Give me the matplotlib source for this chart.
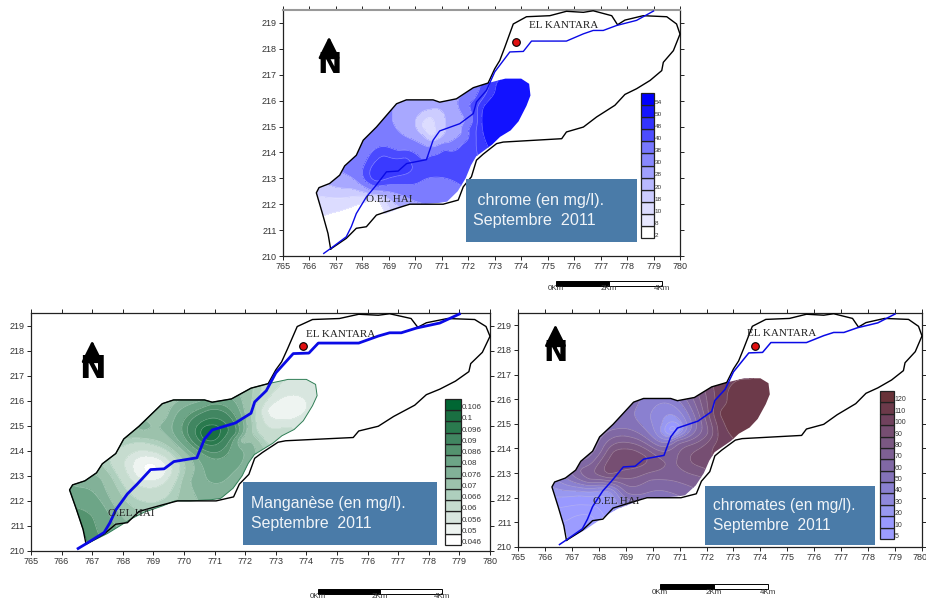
import numpy as np
import matplotlib
matplotlib.use("Agg")
import matplotlib.pyplot as plt
from matplotlib.patches import Polygon, Rectangle
from matplotlib.transforms import ScaledTranslation

W, H = 926, 601

# catchment outline and wadi (km)
outline_x = [766.80, 766.70, 766.49, 766.26, 766.36, 766.76, 767.14, 767.33, 767.77, 768.03, 768.53, 769.29, 769.66,
             770.67, 770.92, 771.55, 772.19, 772.75, 773.00, 773.19, 773.38, 773.70, 774.20, 775.08, 775.71, 776.35,
             776.72, 777.42, 777.64, 777.92, 778.61, 779.50, 779.87, 780.00, 779.75, 779.37, 779.31, 778.87, 778.36,
             777.92, 777.54, 776.85, 776.35, 775.71, 775.53, 773.32, 773.07, 772.56, 772.31, 772.12, 771.81, 771.62,
             771.05, 769.79, 769.29, 768.53, 768.15, 767.77, 767.39, 766.80]
outline_y = [210.27, 210.87, 211.64, 212.44, 212.64, 212.80, 213.12, 213.48, 213.89, 214.47, 214.98, 215.88, 216.03,
             216.03, 215.94, 216.07, 216.50, 216.68, 217.23, 217.55, 218.06, 218.96, 219.24, 219.28, 219.45, 219.41,
             219.47, 219.28, 218.93, 219.11, 219.28, 219.24, 218.96, 218.57, 217.93, 217.48, 217.16, 216.78, 216.46,
             216.24, 215.82, 215.37, 214.98, 214.79, 214.53, 214.40, 214.34, 213.93, 213.70, 213.06, 212.67, 212.16,
             212.00, 212.00, 211.84, 211.58, 211.13, 211.07, 210.68, 210.27]
river_x = [766.54, 766.80, 767.39, 767.58, 767.77, 768.15, 768.47, 768.91, 769.35, 769.67, 770.42, 770.67, 770.92,
           771.68, 772.19, 772.31, 772.69, 773.00, 773.57, 774.08, 774.39, 775.71, 776.35, 776.72, 777.10, 777.60,
           778.36, 779.00]
river_y = [210.10, 210.29, 210.74, 211.13, 211.64, 212.28, 212.67, 213.25, 213.28, 213.57, 213.72, 214.47, 214.83,
           215.11, 215.50, 215.95, 216.40, 217.11, 217.88, 217.90, 218.30, 218.30, 218.58, 218.71, 218.71, 218.90,
           219.10, 219.46]

# limit of the contoured zone
zone_x = [766.26, 766.36, 766.76, 767.14, 767.33, 767.77, 768.03, 768.53, 769.29, 769.66, 770.67, 770.92, 771.55,
          772.19, 772.75, 773.40, 774.00, 774.30, 774.35, 774.20, 773.90, 773.60, 773.20, 772.90, 772.30, 772.10,
          771.90, 771.60, 771.20, 770.90, 770.20, 769.70, 769.30, 768.70, 768.30, 767.90, 767.50, 766.85, 766.70,
          766.49]
zone_y = [212.44, 212.64, 212.80, 213.12, 213.48, 213.89, 214.47, 214.98, 215.88, 216.03, 216.03, 215.94, 216.07,
          216.50, 216.68, 216.85, 216.85, 216.65, 216.20, 215.80, 215.20, 214.85, 214.60, 214.30, 213.85, 213.50,
          213.00, 212.50, 212.10, 212.05, 212.00, 212.00, 211.80, 211.55, 211.30, 211.00, 210.70, 210.30, 210.87,
          211.64]

# values read along the contours of each map: x, y, value
cr_x = [769.16, 769.50, 770.30, 771.20, 771.80, 771.93, 771.93, 767.27, 768.28,
        768.05, 768.35, 769.35, 770.20, 770.60, 771.10, 771.75, 771.95, 771.90, 768.10, 768.50, 770.30, 771.80,
        773.00, 772.56, 772.50, 772.75, 773.26,
        770.04, 770.55, 771.10, 770.80, 770.20, 770.55, 770.70, 770.55,
        766.64, 768.15, 766.45, 768.03, 766.50, 767.40,
        767.00, 767.70, 766.90, 768.20, 768.55, 769.00, 769.30, 769.60, 770.00, 771.00,
        768.34, 768.78, 769.66, 769.92, 769.16, 769.00,
        771.00, 771.50, 772.00, 772.30, 772.30,
        768.40, 767.90, 769.50, 770.80, 767.50,
        770.00, 769.60, 771.40, 771.50, 771.00, 770.20, 767.20, 767.70,
        773.50, 774.00, 773.40, 772.90, 773.20]
cr_y = [215.50, 214.70, 214.30, 214.30, 214.70, 215.20, 216.10, 213.18, 212.54,
        213.50, 214.00, 214.05, 213.70, 213.90, 214.25, 214.35, 214.90, 216.00, 212.90, 212.67, 212.95, 212.67,
        216.30, 215.75, 215.24, 214.21, 216.78,
        215.10, 215.62, 215.10, 214.47, 215.05, 215.43, 214.98, 214.60,
        212.80, 212.48, 211.52, 212.03, 212.30, 212.25,
        211.00, 211.20, 210.50, 211.80, 212.20, 211.85, 212.10, 212.30, 212.40, 212.45,
        213.44, 213.89, 213.83, 213.44, 213.05, 213.40,
        213.40, 213.80, 214.00, 215.50, 214.60,
        214.50, 213.60, 214.40, 214.10, 213.40,
        215.70, 215.50, 215.80, 215.00, 214.45, 214.60, 212.85, 212.75,
        216.00, 216.00, 215.00, 214.55, 216.70]
cr_v = [30, 30, 30, 30, 30, 30, 30, 30, 30,
        40, 40, 40, 40, 40, 40, 40, 40, 40, 40, 40, 40, 40,
        50, 50, 50, 50, 50,
        20, 20, 20, 20, 14, 14, 14, 14,
        20, 20, 8, 8, 14, 14,
        3, 3, 3, 3, 8, 14, 22, 30, 35, 35,
        46, 46, 46, 46, 46, 48,
        42, 42, 43, 45, 46,
        35, 34, 34, 35, 32,
        25, 26, 25, 25, 24, 24, 24, 24,
        54, 55, 54, 52, 52]
cr_levels = [2, 8, 10, 18, 20, 28, 30, 38, 40, 48, 50, 54]
cr_colors = ["#ffffff", "#e8e8ff", "#dcdcff", "#ccccff", "#b8b8ff", "#a0a0ff", "#8888ff", "#7777ff", "#4d4dff",
             "#3333ff", "#1515ff", "#0000ff"]
# the chrome map itself only shows these bands
cr_field_levels = [8, 14, 20, 30, 40, 46, 50]
cr_field_colors = ["#dcdcff", "#ccccff", "#a8a8ff", "#7c7cff", "#4a4aff", "#3a3aff", "#1212ff"]

mn_x = [770.85, 770.55, 771.15, 770.85, 770.85,
        770.11, 770.85, 771.74, 770.96,
        769.76, 770.52, 772.13, 771.61, 770.41,
        768.89, 768.34, 768.89, 769.43, 768.89,
        767.58, 768.56, 769.87, 769.43, 768.34,
        767.30, 768.67, 770.20, 770.41,
        766.45, 767.65, 767.00, 767.20,
        772.70, 773.57, 774.00, 773.46, 773.36,
        772.26, 771.94, 772.43, 772.38, 772.70,
        773.20, 774.30, 773.30, 769.30, 769.70, 768.00]
mn_y = [214.69, 214.70, 214.70, 215.00, 214.40,
        214.89, 215.65, 214.69, 213.92,
        215.49, 215.96, 214.29, 213.16, 213.76,
        213.36, 213.36, 213.76, 213.23, 212.83,
        213.49, 214.36, 213.23, 212.16, 212.16,
        212.90, 214.76, 212.83, 212.16,
        212.56, 211.23, 211.40, 210.70,
        215.63, 216.23, 215.76, 215.23, 215.76,
        216.49, 214.43, 216.03, 214.83, 214.29,
        216.70, 216.60, 214.80, 215.40, 215.90, 214.60]
mn_v = [.106, .1, .1, .1, .1,
        .09, .09, .09, .09,
        .08, .08, .08, .08, .08,
        .047, .056, .056, .056, .056,
        .066, .066, .066, .066, .066,
        .076, .076, .076, .076,
        .08, .08, .086, .086,
        .056, .056, .056, .056, .054,
        .07, .07, .066, .066, .066,
        .06, .058, .062, .074, .076, .072]
mn_levels = [.046, .05, .056, .06, .066, .07, .076, .08, .086, .09, .096, .1, .106]
mn_colors = ["#ffffff", "#eef4f1", "#d8e6df", "#c6dccf", "#aecfbd", "#9cc2ac", "#82b198", "#6da587", "#54936f",
             "#418661", "#2a7a4e", "#1a6f42", "#006633"]

cm_x = [770.74, 770.55, 770.95, 770.74, 770.74, 770.40, 771.05, 770.74, 769.90, 770.50, 771.14, 770.70,
        768.35, 770.27, 770.90, 771.63, 771.32,
        771.76, 772.07, 771.26, 770.95, 771.76,
        768.28, 768.53, 769.28, 769.77, 768.90, 768.35,
        773.68, 772.75, 772.47, 773.00,
        772.25, 772.25,
        767.29, 767.67, 766.98, 768.41, 769.90, 771.63, 769.00, 770.30,
        766.70, 767.50, 767.00, 767.80, 768.20, 767.30, 766.60, 768.00,
        769.00, 770.20, 771.50, 772.10, 769.20, 768.00, 767.60, 769.30, 768.70,
        773.50, 774.10, 773.50, 773.20, 772.60, 772.50]
cm_y = [214.79, 214.85, 214.85, 215.05, 214.55, 214.95, 215.00, 215.45, 215.30, 215.85, 215.30, 214.40,
        214.70, 214.09, 214.36, 215.03, 215.85,
        215.98, 214.63, 214.09, 213.55, 212.87,
        213.41, 213.88, 213.95, 213.68, 213.14, 212.94,
        216.79, 216.12, 215.44, 214.42,
        216.52, 214.09,
        213.14, 212.73, 212.67, 212.26, 212.73, 212.33, 212.20, 212.30,
        211.50, 211.70, 210.60, 211.20, 211.70, 212.20, 212.55, 212.35,
        213.45, 213.20, 213.50, 213.90, 214.40, 213.90, 213.50, 215.80, 215.00,
        216.40, 216.00, 215.40, 214.70, 215.90, 214.70]
cm_v = [5, 12, 12, 20, 20, 30, 30, 32, 40, 40, 40, 40,
        60, 60, 60, 60, 60,
        80, 80, 80, 80, 80,
        90, 90, 90, 90, 90, 90,
        110, 110, 110, 110,
        100, 100,
        70, 70, 50, 30, 70, 70, 60, 60,
        8, 10, 5, 5, 15, 25, 38, 35,
        95, 82, 92, 98, 72, 65, 62, 52, 55,
        115, 118, 115, 112, 106, 104]
cm_levels = [5, 10, 20, 30, 40, 50, 60, 70, 80, 90, 100, 110, 120]
cm_colors = ["#9c9cff", "#9999ff", "#9898f0", "#8f88dc", "#8a80d0", "#8472b8", "#8068a4", "#7e6094", "#7a5882",
             "#764e72", "#70425e", "#6c3a4a", "#683238"]

x_ticks = list(range(765, 781))
y_ticks = list(range(210, 220))


def axes_px(left, top, right, bottom):
    # pixel box -> figure fraction
    return [left / W, 1 - bottom / H, (right - left) / W, (bottom - top) / H]


def surface(xs, ys, vals, gx, gy):
    # smoothing thin plate surface over the read values, only to get clean bands between them
    xs, ys, vals = np.array(xs), np.array(ys), np.array(vals)
    n = len(xs)
    kern = lambda r2: 0.5 * r2 * np.log(r2 + 1e-9)
    K = kern((xs[:, None] - xs[None, :]) ** 2 + (ys[:, None] - ys[None, :]) ** 2) + 0.05 * np.eye(n)
    P = np.column_stack([np.ones(n), xs, ys])
    A = np.block([[K, P], [P.T, np.zeros((3, 3))]])
    w = np.linalg.solve(A, np.concatenate([vals, np.zeros(3)]))
    Z = kern((gx[..., None] - xs) ** 2 + (gy[..., None] - ys) ** 2) @ w[:n]
    return Z + w[n] + w[n + 1] * gx + w[n + 2] * gy


def north_arrow(ax, x, tip, n_top, n_bottom, fs):
    ax.text(x, (n_top + n_bottom) / 2, "N", fontsize=fs, fontweight="bold", family="DejaVu Sans",
            ha="center", va="center", color="black", zorder=6)
    ax.annotate("", xy=(x, tip), xytext=(x, n_top - 0.25), zorder=6,
                arrowprops=dict(arrowstyle="-|>,head_width=0.5,head_length=1.0", color="black", lw=2.0,
                                mutation_scale=13, shrinkA=0, shrinkB=0))


def draw_map(box, xs, ys, vals, levels, colors, field_levels, field_colors, river_lw, zone_edge, line_col, kantara, hai,
             north, n_fs, note, note_box, note_fs, legend_box, leg_fs, scale_box):
    ax = fig.add_axes(axes_px(*box))
    gx, gy = np.meshgrid(np.linspace(766, 775, 360), np.linspace(210, 217.2, 290))
    gz = surface(xs, ys, vals, gx, gy)
    lv = field_levels + [field_levels[-1] * 10]
    below = "#ffffff" if field_colors is cr_field_colors else field_colors[0]
    cs = ax.contourf(gx, gy, gz, levels=lv, colors=[below] + field_colors, extend="min", zorder=1)
    cl = ax.contour(gx, gy, gz, levels=field_levels, colors=line_col, linewidths=0.5, alpha=0.4, zorder=2)
    zone = Polygon(list(zip(zone_x, zone_y)), closed=True, transform=ax.transData, fill=False,
                   edgecolor=zone_edge if zone_edge else "none", lw=0.7, zorder=3)
    ax.add_patch(zone)
    cs.set_clip_path(zone)
    cl.set_clip_path(zone)

    ax.plot(outline_x, outline_y, color="black", lw=1.0, zorder=4, clip_on=False)
    ax.plot(river_x, river_y, color="#0a0ae6", lw=river_lw, zorder=5, clip_on=False)
    ax.plot(kantara[2], kantara[3], "o", color="#e01010", mec="black", mew=0.8, ms=5.5, zorder=6)
    ax.text(kantara[0], kantara[1], "EL KANTARA", fontsize=8, family="Liberation Serif", color="#222222", va="center",
            zorder=6)
    ax.text(hai[0], hai[1], "O.EL HAI", fontsize=8, family="Liberation Serif", color="#222222", va="center", zorder=6)
    north_arrow(ax, *north, n_fs)

    ax.set_xlim(765, 780)
    ax.set_ylim(210, 219.5)
    ax.set_xticks(x_ticks)
    ax.set_yticks(y_ticks)
    ax.tick_params(top=True, right=True, direction="out", length=3, width=0.7, labelsize=6.5, pad=1.5,
                   labelcolor="#333333", color="#222222")
    for lab in ax.get_xticklabels() + ax.get_yticklabels():
        lab.set_family("Liberation Sans")
    for sp in ax.spines.values():
        sp.set_linewidth(0.9)
        sp.set_color("#222222")

    # blue title box
    nl, nt, nr, nb = note_box
    fig.add_artist(Rectangle((nl / W, 1 - nb / H), (nr - nl) / W, (nb - nt) / H, transform=fig.transFigure,
                             facecolor="#4a7ba8", edgecolor="none", zorder=7))
    fig.text((nl + note[0]) / W, 1 - (nt + nb) / 2 / H, note[1], fontsize=note_fs, family="Liberation Sans",
             color="#f0f4f8", va="center", ha="left", linespacing=1.47, zorder=8)

    # colour legend
    lg = fig.add_axes(axes_px(*legend_box))
    for i, col in enumerate(colors):
        lg.bar(0.5, 1, width=1, bottom=i, color=col, edgecolor="#222222", linewidth=0.9, clip_on=False)
        lg.text(1.05, i + 0.22, format(levels[i], "g"), fontsize=leg_fs, family="Liberation Sans",
                color="#333333", va="center", ha="left", clip_on=False)
    lg.set_xlim(0, 1)
    lg.set_ylim(0, len(colors))
    lg.axis("off")

    # scale bar
    sl, st, sr, sb = scale_box
    sm = (sl + sr) / 2
    sc = fig.add_axes(axes_px(sl, st, sr, sb))
    sc.add_patch(Rectangle((0, 0), 0.5, 1, facecolor="black", edgecolor="black", lw=0.7, clip_on=False))
    sc.add_patch(Rectangle((0.5, 0), 0.5, 1, facecolor="white", edgecolor="black", lw=0.7, clip_on=False))
    sc.set_xlim(0, 1)
    sc.set_ylim(0, 1)
    sc.axis("off")
    for px, label in zip([sl, sm, sr], ["0Km", "2Km", "4Km"]):
        fig.text(px / W, 1 - (sb + 3) / H, label, fontsize=5.8, family="Liberation Sans", color="#333333",
                 ha="center", va="center")
    return ax


fig = plt.figure(figsize=(W / 100, H / 100), dpi=100)

top = draw_map((283, 10, 680, 256), cr_x, cr_y, cr_v, cr_levels, cr_colors, cr_field_levels, cr_field_colors,
               1.0, None, "#ffffff",
               (774.3, 218.9, 773.8, 218.25), (768.15, 212.2), (766.74, 218.47, 217.87, 216.9), 21,
               (7, " chrome (en mg/l).\nSeptembre  2011"), (466, 179, 637, 242), 11.6,
               (641, 93, 654, 238), 4.6, (556, 281, 662, 286))
top.spines["top"].set_color("#999999")
top.spines["top"].set_linewidth(1.5)
draw_map((31, 313, 490, 551), mn_x, mn_y, mn_v, mn_levels, mn_colors, mn_levels, mn_colors,
         2.0, "#2f7d55", "#e8f2ec",
         (774.0, 218.65, 773.9, 218.2), (767.5, 211.5), (767.0, 218.4, 217.7, 216.8), 23,
         (8, "Manganèse (en mg/l).\nSeptembre  2011"), (243, 482, 437, 545), 11.4,
         (445, 399, 461, 545), 5.8, (318, 589, 442, 594))
right = draw_map((518, 313, 922, 547), cm_x, cm_y, cm_v, cm_levels, cm_colors, cm_levels, cm_colors,
                 1.1, None, "#d8d0e0",
                 (773.5, 218.65, 773.8, 218.15), (767.8, 211.85), (766.39, 219.03, 218.3, 217.44), 21,
                 (8, "chromates (en mg/l).\nSeptembre  2011"), (705, 486, 875, 545), 11.2,
                 (880, 391, 894, 539), 5, (660, 584, 768, 589))
# last label sits against the picture edge
last = right.get_xticklabels()[-1]
last.set_transform(last.get_transform() + ScaledTranslation(-2 / 100, 0, fig.dpi_scale_trans))

fig.savefig("out.png", dpi=100)
